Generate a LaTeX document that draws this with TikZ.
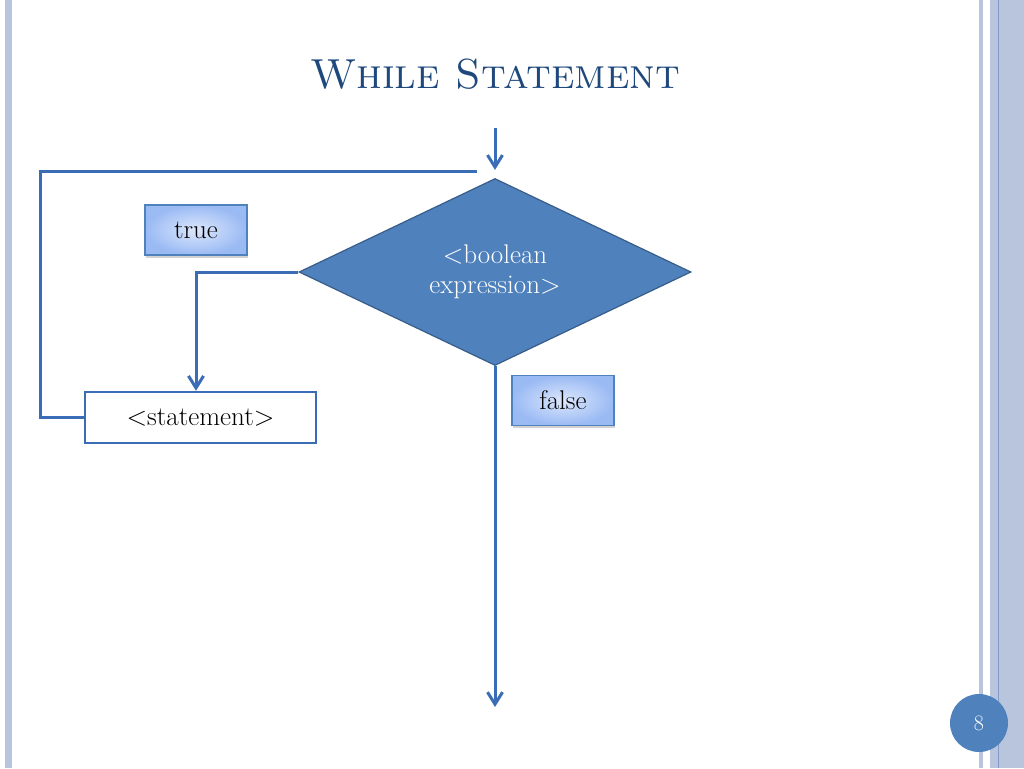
\documentclass[tikz,border=0pt]{standalone}
\usepackage{tikz}
\usetikzlibrary{arrows.meta}
\usetikzlibrary{shapes.geometric}
\usetikzlibrary{shadows}
\definecolor{slideblue}{HTML}{4F81BD}
\definecolor{edgeblue}{HTML}{385D8A}
\definecolor{titleblue}{HTML}{1F497D}
\definecolor{linkblue}{HTML}{3A6DB5}
\definecolor{stripe}{HTML}{B9C5DD}
\definecolor{stripeline}{HTML}{7F9BC8}
\definecolor{answerin}{HTML}{DCE7FC}
\definecolor{answerout}{HTML}{9ABAF4}
\tikzset{link/.style = {draw=linkblue, line width=3pt},
         flow/.style = {link, -{Straight Barb[length=12pt, width=15pt]}},
         bodytext/.style = {font=\fontsize{27}{30}\selectfont},
         answer/.style = {draw=slideblue, line width=1.3pt, inner sep=0pt,
                          minimum width=102pt, minimum height=50pt,
                          shading=radial, inner color=answerin, outer color=answerout,
                          drop shadow={shadow xshift=1pt, shadow yshift=-2.5pt, opacity=0.35},
                          bodytext}}

\begin{document}
\begin{tikzpicture}[x=1pt, y=-1pt]
    \useasboundingbox [fill=white] (0, 0) rectangle (1024, 768);
    % slide border
    \fill [stripe] (5, 0) rectangle (12, 768);
    \fill [stripe] (979, 0) rectangle (983, 768);
    \fill [stripe] (990, 0) rectangle (1024, 768);
    \draw [stripeline, line width=1pt] (998.5, 0) -- (998.5, 768);
    \node [anchor=base, text=titleblue, font=\fontsize{42}{50}\selectfont] (title) at (495, 88) {\textsc{While Statement}};
    % flow chart
    \node [diamond, aspect=2.1, fill=slideblue, draw=edgeblue, line width=1.2pt, inner sep=0pt,
           minimum width=392pt, minimum height=187pt,
           text=white, bodytext] (cond) at (495, 272)
          {\raisebox{-5pt}{\begin{tabular}{@{}c@{}}<boolean\\expression>\end{tabular}}};
    \node [draw=linkblue, line width=2.5pt, fill=white, inner sep=0pt,
           minimum width=231pt, minimum height=51pt, bodytext] (stmt) at (200.5, 417.5) {<statement>};
    \node [answer] (true) at (196, 230) {true};
    \node [answer] (false) at (563, 400.5) {false};
    \coordinate (start) at (495, 128);
    \coordinate (loop) at (477, 171);
    \coordinate (exit) at (495, 707);
    \draw [flow] (start) -- ([yshift=8pt]cond.north);
    \draw [flow] (cond.west) -| ([xshift=-4.5pt]stmt.north);
    \draw [link] (stmt.west) -- ++(-43, 0) |- (loop);
    \draw [flow] (cond.south) -- (exit);
    % page number
    \node [circle, fill=slideblue, minimum size=58pt, inner sep=0pt, text=white,
           font=\fontsize{22}{26}\selectfont] (page) at (979, 723) {8};
\end{tikzpicture}
\end{document}
